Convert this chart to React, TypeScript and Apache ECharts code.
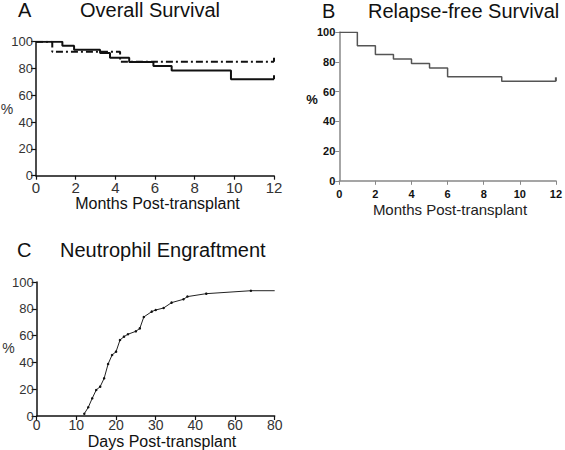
import React, { useEffect, useRef } from "react";
import * as echarts from "echarts";

// Panel A: Overall Survival (two groups)
const osSolidMonths = [0, 1.33, 1.92, 3.23, 3.73, 4.7, 5.92, 6.84, 9.83, 12];
const osSolidPct = [100, 97, 94, 91.5, 88, 84.8, 81.8, 78.5, 72, 72];
const osDashMonths = [0, 0.82, 4.24, 12];
const osDashPct = [100, 92.5, 85, 85];

// Panel B: Relapse-free Survival
const rfsMonths = [0, 1, 2, 3, 4, 5, 6, 9, 12];
const rfsPct = [100, 91, 85, 82, 79, 76, 70, 67, 67];

// Panel C: Neutrophil Engraftment
const engDays = [12, 13, 14, 15, 16, 17, 18, 19, 20, 21, 22, 23, 25, 26, 27, 29, 30, 32, 34, 37, 38, 45.5, 68, 80];
const engPct = [1.7, 6.5, 13.2, 19.4, 21.9, 28.1, 38.8, 45.5, 48, 56.7, 59.2, 61, 63.2, 65.4, 73.9, 77.9, 79.1, 80.6, 84.6, 87.1, 89.1, 91.3, 93.5, 93.5];

// Axis tick labels
const monthTicks = ["0", "2", "4", "6", "8", "10", "12"];
const pctTicks = ["0", "20", "40", "60", "80", "100"];
const dayTicks = ["0", "10", "20", "30", "40", "60", "80"];

// broken day axis: 10 days per unit to 40, then 20 days per unit
const dayToPos = (d: number) => (d <= 40 ? d : 40 + (d - 40) / 2);

const FONT = "Arial, 'Liberation Sans', Helvetica, sans-serif";

function endMark(v: number[], last: boolean) {
  if (!last) return { value: v, symbol: "none" };
  return { value: v, symbol: "rect", symbolSize: [2, 4], symbolOffset: [0, -2] };
}

function label(text: string, x: number, y: number, font: string, fill: string, align = "left") {
  return { type: "text", x, y, style: { text, font, fill, align, verticalAlign: "middle" } };
}

export default function App() {
  const ref = useRef<HTMLDivElement>(null);
  useEffect(() => {
    if (!ref.current) return;
    const chart = echarts.init(ref.current, null, { renderer: "svg" });

    const blackAxis = { lineStyle: { color: "#111", width: 1.5 } };
    const grayAxis = { lineStyle: { color: "#888", width: 1.5 } };

    const yAxisA = (gi: number) => ({
      type: "value",
      gridIndex: gi,
      min: 0,
      max: 100,
      interval: 20,
      splitLine: { show: false },
      axisLine: { show: true, ...blackAxis },
      axisTick: { show: true, length: 5, lineStyle: { color: "#111", width: 1.2 } },
      axisLabel: {
        margin: 3,
        fontSize: 13,
        color: "#333",
        fontFamily: FONT,
        formatter: (v: number) => pctTicks[v / 20],
      },
    });

    const option: any = {
      animation: false,
      grid: [
        { left: 36, top: 41.7, width: 238, height: 134 },
        { left: 339.3, top: 32.3, width: 219.4, height: 148.5 },
        { left: 36.7, top: 282, width: 238, height: 134 },
      ],
      xAxis: [
        {
          type: "value",
          gridIndex: 0,
          min: 0,
          max: 12,
          interval: 2,
          splitLine: { show: false },
          axisLine: { show: true, ...blackAxis },
          axisTick: { show: true, length: 4, lineStyle: { color: "#111", width: 1.2 } },
          axisLabel: {
            margin: 4,
            fontSize: 15,
            color: "#333",
            fontFamily: FONT,
            formatter: (v: number) => monthTicks[v / 2],
          },
        },
        {
          type: "value",
          gridIndex: 1,
          min: 0,
          max: 12,
          interval: 2,
          splitLine: { show: false },
          axisLine: { show: true, ...grayAxis },
          axisTick: { show: true, length: 4, lineStyle: { color: "#888", width: 1 } },
          axisLabel: {
            margin: 8,
            fontSize: 11,
            fontWeight: "bold",
            color: "#111",
            fontFamily: FONT,
            formatter: (v: number) => monthTicks[v / 2],
          },
        },
        {
          type: "value",
          gridIndex: 2,
          min: 0,
          max: 60,
          interval: 10,
          splitLine: { show: false },
          axisLine: { show: true, ...blackAxis },
          axisTick: { show: true, length: 4, lineStyle: { color: "#111", width: 1.2 } },
          axisLabel: {
            margin: 2,
            fontSize: 14,
            color: "#333",
            fontFamily: FONT,
            formatter: (v: number) => dayTicks[v / 10],
          },
        },
      ],
      yAxis: [
        yAxisA(0),
        {
          type: "value",
          gridIndex: 1,
          min: 0,
          max: 100,
          interval: 20,
          splitLine: { show: false },
          axisLine: { show: true, ...grayAxis },
          axisTick: { show: true, length: 4, lineStyle: { color: "#888", width: 1 } },
          axisLabel: {
            margin: 4,
            fontSize: 11,
            fontWeight: "bold",
            color: "#111",
            fontFamily: FONT,
            formatter: (v: number) => pctTicks[v / 20],
          },
        },
        yAxisA(2),
      ],
      series: [
        {
          type: "line",
          xAxisIndex: 0,
          yAxisIndex: 0,
          step: "end",
          symbol: "none",
          showSymbol: true,
          lineStyle: { color: "#111", width: 2, type: [7, 3, 2, 3] },
          itemStyle: { color: "#111" },
          data: osDashMonths.map((m, i) => endMark([m, osDashPct[i]], i === osDashMonths.length - 1)),
        },
        {
          type: "line",
          xAxisIndex: 0,
          yAxisIndex: 0,
          step: "end",
          symbol: "none",
          showSymbol: true,
          lineStyle: { color: "#111", width: 2 },
          itemStyle: { color: "#111" },
          data: osSolidMonths.map((m, i) => endMark([m, osSolidPct[i]], i === osSolidMonths.length - 1)),
        },
        {
          type: "line",
          xAxisIndex: 1,
          yAxisIndex: 1,
          step: "end",
          symbol: "none",
          showSymbol: true,
          lineStyle: { color: "#555", width: 1.5 },
          itemStyle: { color: "#555" },
          data: rfsMonths.map((m, i) => endMark([m, rfsPct[i]], i === rfsMonths.length - 1)),
        },
        {
          type: "line",
          xAxisIndex: 2,
          yAxisIndex: 2,
          symbol: "circle",
          symbolSize: 2.5,
          showSymbol: true,
          lineStyle: { color: "#222", width: 1 },
          itemStyle: { color: "#111" },
          data: engDays.map((d, i) =>
            i === engDays.length - 1
              ? { value: [dayToPos(d), engPct[i]], symbol: "none" }
              : [dayToPos(d), engPct[i]]
          ),
        },
      ],
      graphic: [
        label("A", 18, 10, `20px ${FONT}`, "#111"),
        label("Overall Survival", 80, 10, `20px ${FONT}`, "#111"),
        label("B", 322, 10.5, `20px ${FONT}`, "#111"),
        label("Relapse-free Survival", 368, 10.5, `20px ${FONT}`, "#111"),
        label("C", 17, 250, `20px ${FONT}`, "#111"),
        label("Neutrophil Engraftment", 60, 250, `20px ${FONT}`, "#111"),
        label("%", 7, 109, `14px ${FONT}`, "#333", "center"),
        label("%", 312, 99, `bold 13px ${FONT}`, "#111", "center"),
        label("%", 8.5, 348, `14px ${FONT}`, "#333", "center"),
        label("Months Post-transplant", 157.5, 203, `16px ${FONT}`, "#111", "center"),
        label("Months Post-transplant", 450, 209, `15px ${FONT}`, "#222", "center"),
        label("Days Post-transplant", 162, 441, `16px ${FONT}`, "#111", "center"),
      ],
    };

    chart.setOption(option);
    return () => chart.dispose();
  }, []);

  return (
    <div
      ref={ref}
      style={{ position: "fixed", left: 0, top: 0, width: 565, height: 450, background: "#fff" }}
    />
  );
}
